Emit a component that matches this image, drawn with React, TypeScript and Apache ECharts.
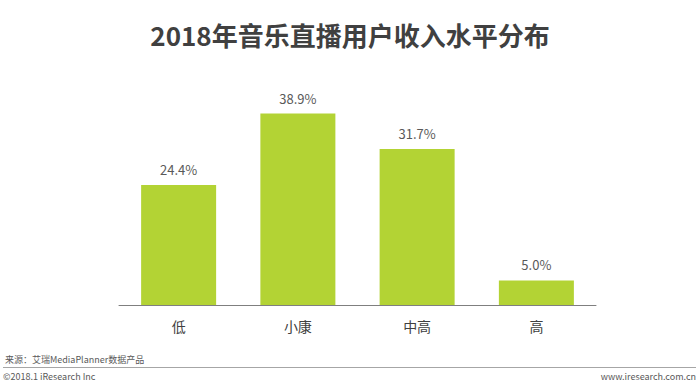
import React, { useEffect, useRef } from "react";
import * as echarts from "echarts";

const titleText = "2018年音乐直播用户收入水平分布";
const categories = ["低", "小康", "中高", "高"];
const values = [24.4, 38.9, 31.7, 5.0];
const sourceText = "来源：艾瑞MediaPlanner数据产品";
const copyrightText = "©2018.1 iResearch Inc";
const siteText = "www.iresearch.com.cn";

export default function App() {
  const ref = useRef<HTMLDivElement>(null);
  useEffect(() => {
    if (!ref.current) return;
    const chart = echarts.init(ref.current, null, { renderer: "svg" });
    const font = '"Microsoft YaHei", "Noto Sans CJK SC", "Noto Sans", sans-serif';
    chart.setOption({
      animation: false,
      backgroundColor: "#ffffff",
      title: {
        text: titleText,
        left: "center",
        top: 16,
        textStyle: { fontSize: 26, fontWeight: "bold", color: "#404040", fontFamily: font },
      },
      grid: { left: 119, width: 477, top: 59, bottom: 78, containLabel: false },
      xAxis: {
        type: "category",
        data: categories,
        axisLine: { lineStyle: { color: "#7f7f7f", width: 1 } },
        axisTick: { show: false },
        axisLabel: { color: "#404040", fontSize: 14, margin: 14, fontFamily: font },
      },
      yAxis: {
        type: "value",
        min: 0,
        max: 50,
        show: false,
        splitLine: { show: false },
      },
      series: [
        {
          type: "bar",
          data: values,
          barWidth: 75,
          itemStyle: { color: "#b3d334" },
          label: {
            show: true,
            position: "top",
            distance: 9,
            color: "#595959",
            fontSize: 13,
            fontFamily: font,
            formatter: (p: any) => p.value.toFixed(1) + "%",
          },
        },
      ],
      graphic: [
        {
          type: "text",
          left: 5,
          top: 355,
          style: { text: sourceText, fontSize: 9, fill: "#595959", fontFamily: font },
        },
        {
          type: "line",
          shape: { x1: 3, y1: 367.5, x2: 696, y2: 367.5 },
          style: { stroke: "#a6a6a6", lineWidth: 1 },
        },
        {
          type: "text",
          left: 3,
          top: 372,
          style: { text: copyrightText, fontSize: 9, fill: "#595959", fontFamily: font },
        },
        {
          type: "text",
          right: 4,
          top: 372,
          style: { text: siteText, fontSize: 9, fill: "#595959", fontFamily: font },
        },
      ],
    });
    return () => chart.dispose();
  }, []);
  return <div ref={ref} style={{ width: 700, height: 383, position: "fixed", left: 0, top: 0 }} />;
}
